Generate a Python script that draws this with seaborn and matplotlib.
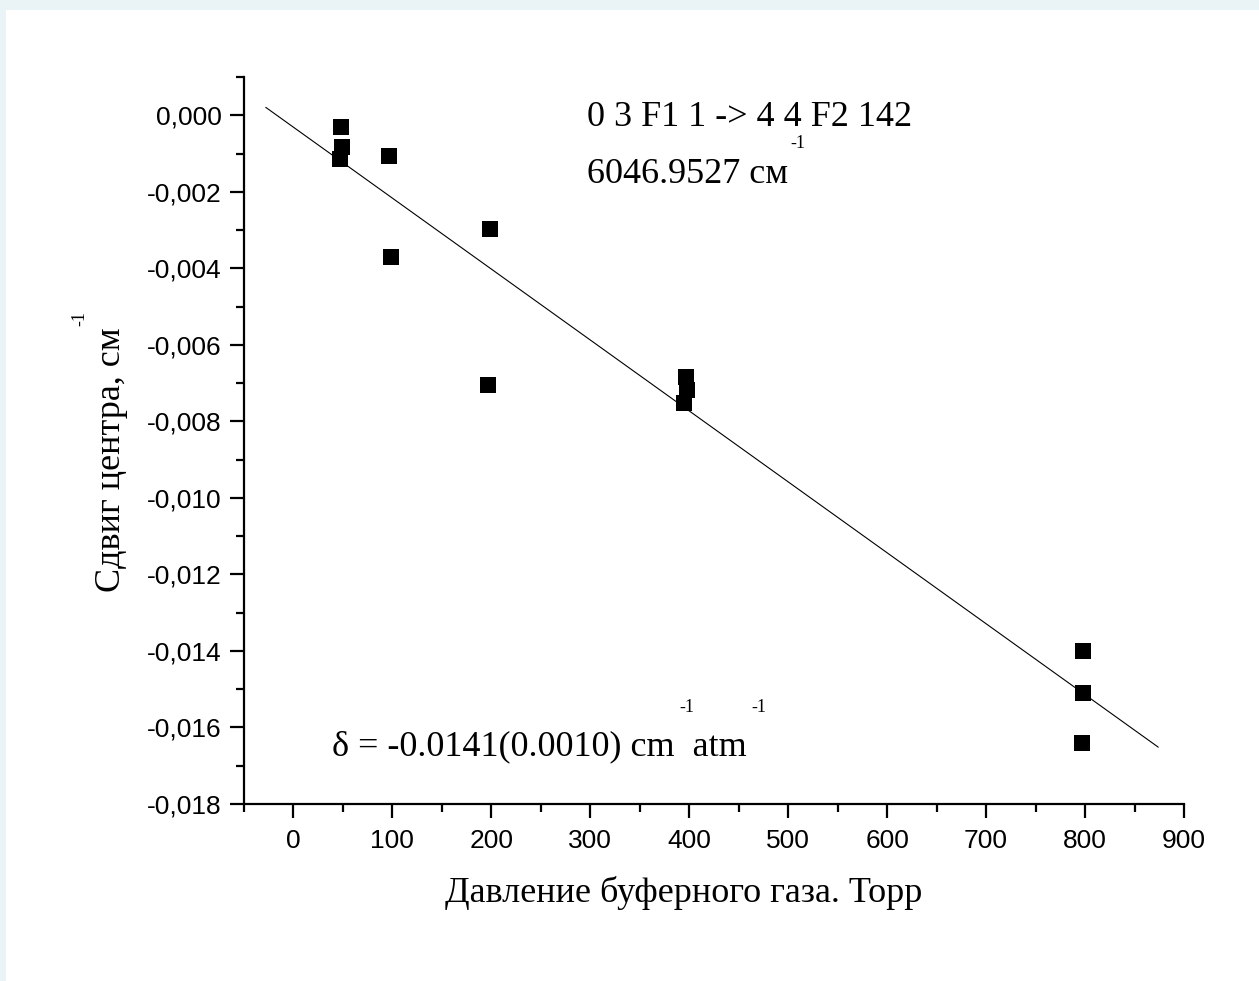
import numpy as np
import pandas as pd
import matplotlib
matplotlib.use("Agg")
import matplotlib.pyplot as plt
from matplotlib.ticker import MultipleLocator, FuncFormatter
from matplotlib.patches import Rectangle
import seaborn as sns

# ---- data ----
pressure = [48.2, 49.5, 47.2, 97.0, 98.4, 198.4, 196.8, 396.8, 397.8, 394.8, 797.6, 798.3, 796.6]
shift = [-0.00031, -0.00082, -0.00113, -0.00106, -0.00371, -0.00298, -0.00704,
         -0.00683, -0.00717, -0.00752, -0.01401, -0.01511, -0.01641]
fit_x_range = [-28, 874]

x_label = "Давление буферного газа. Торр"
y_label = "Сдвиг центра, см"
title_line1 = "0 3 F1 1 -> 4 4 F2 142"
title_line2 = "6046.9527 см"
delta_text = "δ = -0.0141(0.0010) cm  atm"

sns.set_style("ticks")
plt.rcParams['font.family'] = ['Liberation Sans', 'DejaVu Sans']
plt.rcParams['text.color'] = 'black'
plt.rcParams['axes.labelcolor'] = 'black'
plt.rcParams['xtick.color'] = 'black'
plt.rcParams['ytick.color'] = 'black'

W, H = 1259, 981
fig = plt.figure(figsize=(W / 100, H / 100), dpi=100, facecolor="white")

def fx(px):
    return px / W

def fy(py):
    return 1 - py / H

# light border strips
fig.patches.append(Rectangle((0, 0), fx(6), 1, transform=fig.transFigure,
                             facecolor="#eaf3f5", edgecolor="none", zorder=0))
fig.patches.append(Rectangle((0, fy(10)), 1, 10 / H, transform=fig.transFigure,
                             facecolor="#eaf3f5", edgecolor="none", zorder=0))

ax = fig.add_axes([fx(244), fy(804), fx(1184) - fx(244), (804 - 77) / H])
ax.set_facecolor("white")

df = pd.DataFrame({"p": pressure, "s": shift})
slope, intercept = np.polyfit(df["p"], df["s"], 1)
line_df = pd.DataFrame({"p": fit_x_range,
                        "s": [slope * v + intercept for v in fit_x_range]})

sns.lineplot(data=line_df, x="p", y="s", ax=ax, color="black", linewidth=0.8, zorder=2)
sns.scatterplot(data=df, x="p", y="s", ax=ax, marker="s", s=135, color="black",
                linewidth=0, zorder=3)

ax.set_xlim(-50, 900)
ax.set_ylim(-0.018, 0.001)
ax.xaxis.set_major_locator(MultipleLocator(100))
ax.xaxis.set_minor_locator(MultipleLocator(50))
ax.yaxis.set_major_locator(MultipleLocator(0.002))
ax.yaxis.set_minor_locator(MultipleLocator(0.001))

def yfmt(v, pos):
    if abs(v) < 1e-9:
        v = 0.0
    return f"{v:.3f}".replace(".", ",")

ax.yaxis.set_major_formatter(FuncFormatter(yfmt))
ax.set_xlabel("")
ax.set_ylabel("")

for side in ["top", "right"]:
    ax.spines[side].set_visible(False)
for side in ["left", "bottom"]:
    ax.spines[side].set_linewidth(1.6)
    ax.spines[side].set_color("black")

ax.tick_params(axis="both", which="major", direction="out", length=10, width=1.6,
               labelsize=19, pad=6, colors="black")
ax.tick_params(axis="both", which="minor", direction="out", length=6, width=1.6,
               colors="black")
ax.tick_params(axis="x", which="major", pad=8)

serif = ['Liberation Serif', 'DejaVu Serif']

# axis labels
fig.text(fx(684), fy(893), x_label, family=serif, fontsize=26, ha="center", va="center",
         color="black")
fig.text(fx(111), fy(460), y_label, family=serif, fontsize=26, ha="center", va="center",
         rotation=90, color="black")
fig.text(fx(80), fy(318), "-1", family=serif, fontsize=13, ha="center", va="center",
         rotation=90, color="black")

# annotations
fig.text(fx(587), fy(126), title_line1, family=serif, fontsize=26, ha="left", va="baseline",
         color="black")
fig.text(fx(587), fy(183), title_line2, family=serif, fontsize=26, ha="left", va="baseline",
         color="black")
fig.text(fx(798), fy(143), "-1", family=serif, fontsize=13, ha="center", va="center",
         color="black")

fig.text(fx(332), fy(755), delta_text, family=serif, fontsize=26, ha="left", va="baseline",
         color="black")
fig.text(fx(687), fy(707), "-1", family=serif, fontsize=13, ha="center", va="center",
         color="black")
fig.text(fx(759), fy(707), "-1", family=serif, fontsize=13, ha="center", va="center",
         color="black")

fig.savefig("out.png", dpi=100, facecolor="white")
